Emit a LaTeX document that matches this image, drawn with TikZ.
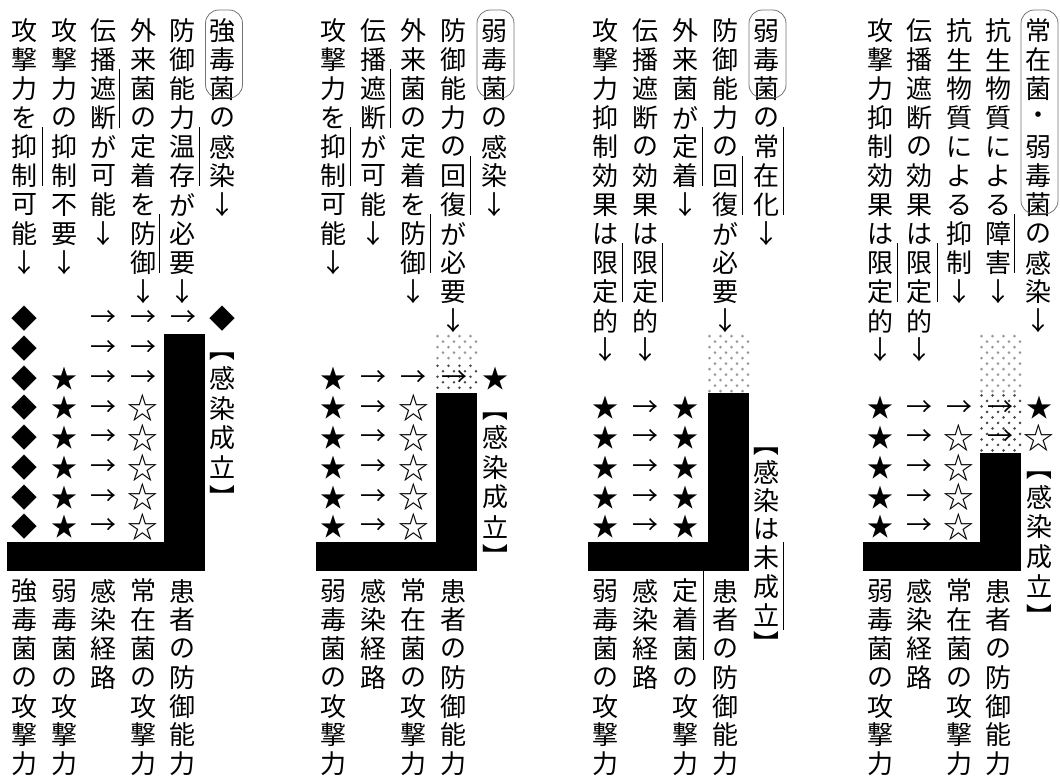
\documentclass[tikz,border=0pt]{standalone}
\usepackage{fontspec}
\newfontfamily\jp{Noto Sans CJK JP}
\tikzset{
  ch/.style={inner sep=0pt, outer sep=0pt, anchor=center, font=\jp\fontsize{19.5}{19.5}\selectfont},
  brk/.style={ch, rotate=-90},
  side/.style={line width=0.75pt, black},
  pill/.style={draw=black!55, line width=0.6pt, rounded corners=10pt},
  bar/.style={fill=black, draw=none},
  dotlight/.style={fill=black!40},
  dotdark/.style={fill=black!72},
}
\newcommand\ws{{\fontsize{23}{23}\selectfont ☆}}
% name, x, y0, pitch, list
\newcommand\vcol[5]{\foreach \zz [count=\ii from 0] in {#5} {\node[ch] (#1-\ii) at (#2,{#3+\ii*#4}) {\zz};}}
\newcommand\tcol[3]{\vcol{#1}{#2}{31}{29}{#3}}
\newcommand\bcol[3]{\vcol{#1}{#2}{591}{28.8}{#3}}
\newcommand\scol[4]{\vcol{#1}{#2}{319+29.7*(#3-10)}{29.7}{#4}}
\newcommand\sline[3]{\draw[side] ({#1+17},{31+29*#2-20}) -- ({#1+17},{31+29*#3+10});}
\newcommand\pillbox[3]{\draw[pill] ({#1-17},{31+29*#2-21}) rectangle ({#1+20},{31+29*#3+9});}
\newcommand\brkat[3]{\node[brk] (#1) at (#2,#3) {【};}
\newcommand\brkend[3]{\node[brk] (#1) at (#2,#3) {】};}
% dotted cell: left x, top y, last row index, style
\newcommand\dotcell[4]{\foreach \jj in {0,...,#3} {\pgfmathsetmacro\off{mod(\jj,2)*5.5}
  \foreach \kk in {0,...,3} {\fill[#4] ({#1+1.5+\off+11*\kk},{#2+2.2+5.5*\jj}) circle[radius=1.1pt];}}}
\begin{document}
\begin{tikzpicture}[x=0.75pt,y=-0.75pt]
\useasboundingbox (0,0) rectangle (1060,776);

% ================= Panel 1 =================
\fill[bar] (164,333.85) rectangle (205,571.45);
\fill[bar] (7,541.75) rectangle (205,571.45);
\tcol{p1t1}{25}{攻,撃,力,を,抑,制,可,能,↓}
\tcol{p1t2}{64.5}{攻,撃,力,の,抑,制,不,要,↓}
\tcol{p1t3}{103}{伝,播,遮,断,が,可,能,↓}
\tcol{p1t4}{143}{外,来,菌,の,定,着,を,防,御,↓}
\tcol{p1t5}{182.5}{防,御,能,力,温,存,が,必,要,↓}
\tcol{p1t6}{222.5}{強,毒,菌,の,感,染,↓}
\sline{25}{4}{5}
\sline{102}{2}{3}
\sline{142}{7}{8}
\sline{182}{4}{5}
\pillbox{222.5}{0}{2}
\scol{p1s1}{25}{10}{◆,◆,◆,◆,◆,◆,◆,◆}
\scol{p1s2}{64.5}{12}{★,★,★,★,★,★}
\scol{p1s3}{103}{10}{→,→,→,→,→,→,→,→}
\scol{p1s4}{143}{10}{→,→,→,\ws,\ws,\ws,\ws,\ws}
\scol{p1s5}{183}{10}{→}
\scol{p1s6}{222.5}{10}{◆}
\brkat{p1b1}{222.5}{348.7}
\scol{p1r}{222.5}{12}{感,染,成,立}
\brkend{p1b2}{222.5}{497.2}
\bcol{p1u1}{25}{強,毒,菌,の,攻,撃,力}
\bcol{p1u2}{64.5}{弱,毒,菌,の,攻,撃,力}
\bcol{p1u3}{103}{感,染,経,路}
\bcol{p1u4}{143}{常,在,菌,の,攻,撃,力}
\bcol{p1u5}{182.5}{患,者,の,防,御,能,力}

% ================= Panel 2 =================
\dotcell{436}{333.85}{4}{dotlight}
\dotcell{436}{363.55}{4}{dotdark}
\fill[bar] (436,393.25) rectangle (477,571.45);
\fill[bar] (316,541.75) rectangle (477,571.45);
\tcol{p2t1}{333}{攻,撃,力,を,抑,制,可,能,↓}
\tcol{p2t2}{373.25}{伝,播,遮,断,が,可,能,↓}
\tcol{p2t3}{413.5}{外,来,菌,の,定,着,を,防,御,↓}
\tcol{p2t4}{453.75}{防,御,能,力,の,回,復,が,必,要,↓}
\tcol{p2t5}{494}{弱,毒,菌,の,感,染,↓}
\sline{333}{4}{5}
\sline{373.25}{2}{3}
\sline{413.5}{7}{8}
\sline{453.75}{5}{6}
\pillbox{494}{0}{2}
\scol{p2s1}{333}{12}{★,★,★,★,★,★}
\scol{p2s2}{373.25}{12}{→,→,→,→,→,→}
\scol{p2s3}{413.5}{12}{→,\ws,\ws,\ws,\ws,\ws}
\scol{p2s4}{454.5}{12}{→}
\scol{p2s5}{495}{12}{★}
\brkat{p2b1}{495}{408.1}
\scol{p2r}{495}{14}{感,染,成,立}
\brkend{p2b2}{495}{556.6}
\bcol{p2u1}{333}{弱,毒,菌,の,攻,撃,力}
\bcol{p2u2}{373.25}{感,染,経,路}
\bcol{p2u3}{413.5}{常,在,菌,の,攻,撃,力}
\bcol{p2u4}{453.75}{患,者,の,防,御,能,力}

% ================= Panel 3 =================
\dotcell{708}{333.85}{10}{dotlight}
\fill[bar] (708,393.25) rectangle (749,571.45);
\fill[bar] (588,541.75) rectangle (749,571.45);
\tcol{p3t1}{605}{攻,撃,力,抑,制,効,果,は,限,定,的,↓}
\tcol{p3t2}{645.25}{伝,播,遮,断,の,効,果,は,限,定,的,↓}
\tcol{p3t3}{685.5}{外,来,菌,が,定,着,↓}
\tcol{p3t4}{725.75}{防,御,能,力,の,回,復,が,必,要,↓}
\tcol{p3t5}{766}{弱,毒,菌,の,常,在,化,↓}
\sline{605.5}{8}{9}
\sline{645.5}{8}{9}
\sline{685.5}{4}{5}
\sline{725}{5}{6}
\sline{766}{4}{6}
\pillbox{766}{0}{2}
\scol{p3s1}{605}{13}{★,★,★,★,★}
\scol{p3s2}{645.25}{13}{→,→,→,→,→}
\scol{p3s3}{685.5}{13}{★,★,★,★,★}
\brkat{p3b1}{766}{443.5}
\vcol{p3r}{766}{472}{28.6}{感,染,は,未,成,立}
\brkend{p3b2}{766}{643.7}
\draw[side] (783,542) -- (783,630);
\bcol{p3u1}{605}{弱,毒,菌,の,攻,撃,力}
\bcol{p3u2}{645.25}{感,染,経,路}
\bcol{p3u3}{685.5}{定,着,菌,の,攻,撃,力}
\bcol{p3u4}{725.75}{患,者,の,防,御,能,力}
\draw[side] (703,570) -- (703,660);

% ================= Panel 4 =================
\dotcell{980}{333.85}{10}{dotlight}
\dotcell{980}{393.25}{10}{dotdark}
\fill[bar] (980,452.65) rectangle (1021,571.45);
\fill[bar] (863,541.75) rectangle (1021,571.45);
\tcol{p4t1}{880}{攻,撃,力,抑,制,効,果,は,限,定,的,↓}
\tcol{p4t2}{919.5}{伝,播,遮,断,の,効,果,は,限,定,的,↓}
\tcol{p4t3}{959}{抗,生,物,質,に,よ,る,抑,制,↓}
\tcol{p4t4}{998.5}{抗,生,物,質,に,よ,る,障,害,↓}
\tcol{p4t5}{1038}{常,在,菌,・,弱,毒,菌,の,感,染,↓}
\sline{880}{8}{9}
\sline{920}{8}{9}
\sline{997}{7}{8}
\pillbox{1038}{0}{6}
\scol{p4s1}{880}{13}{★,★,★,★,★}
\scol{p4s2}{919.5}{13}{→,→,→,→,→}
\scol{p4s3}{959}{13}{→,\ws,\ws,\ws,\ws}
\scol{p4s4}{1000}{13}{→,→}
\scol{p4s5}{1039}{13}{★,\ws}
\brkat{p4b1}{1039}{467.5}
\scol{p4r}{1039}{16}{感,染,成,立}
\brkend{p4b2}{1039}{616}
\bcol{p4u1}{880}{弱,毒,菌,の,攻,撃,力}
\bcol{p4u2}{919.5}{感,染,経,路}
\bcol{p4u3}{959}{常,在,菌,の,攻,撃,力}
\bcol{p4u4}{998.5}{患,者,の,防,御,能,力}
\end{tikzpicture}
\end{document}
